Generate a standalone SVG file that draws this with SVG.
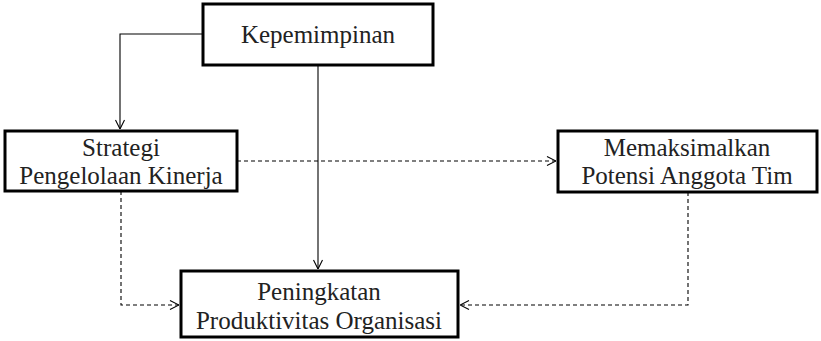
<svg xmlns="http://www.w3.org/2000/svg" width="821" height="341" viewBox="0 0 821 341">
<style>
.box{fill:#fff;stroke:#000;stroke-width:3}
.t{font-family:"Liberation Serif",serif;font-size:25px;fill:#222;text-anchor:middle}
.ln{fill:none;stroke:#000;stroke-width:1.1}
.dash{stroke-dasharray:4 3}
</style>
<defs>
<marker id="arr" viewBox="0 0 10 10" refX="10" refY="5" markerWidth="10" markerHeight="10" markerUnits="userSpaceOnUse" orient="auto">
<path d="M1,0.5 L10,5 L1,9.5" fill="none" stroke="#000" stroke-width="1.1"/>
</marker>
</defs>
<rect width="821" height="341" fill="#fff"/>
<g id="connectors">
<path class="ln" d="M203,34 H120 V129" marker-end="url(#arr)"/>
<path class="ln" d="M318,65 V269" marker-end="url(#arr)"/>
<path class="ln dash" d="M237,161 H556" marker-end="url(#arr)"/>
<path class="ln dash" d="M121,191 V305 H179" marker-end="url(#arr)"/>
<path class="ln dash" d="M688,192 V305 H460" marker-end="url(#arr)"/>
</g>
<g id="kepemimpinan">
<rect class="box" x="203" y="4" width="230" height="61"/>
<text class="t" x="318" y="43">Kepemimpinan</text>
</g>
<g id="strategi">
<rect class="box" x="5" y="131" width="232" height="60"/>
<text class="t" x="121" y="156">Strategi</text>
<text class="t" x="121" y="184">Pengelolaan Kinerja</text>
</g>
<g id="memaksimalkan">
<rect class="box" x="558" y="131" width="259" height="61"/>
<text class="t" x="687" y="156">Memaksimalkan</text>
<text class="t" x="687" y="184">Potensi Anggota Tim</text>
</g>
<g id="peningkatan">
<rect class="box" x="181" y="271" width="277" height="66"/>
<text class="t" x="319" y="300">Peningkatan</text>
<text class="t" x="319" y="329">Produktivitas Organisasi</text>
</g>
</svg>
